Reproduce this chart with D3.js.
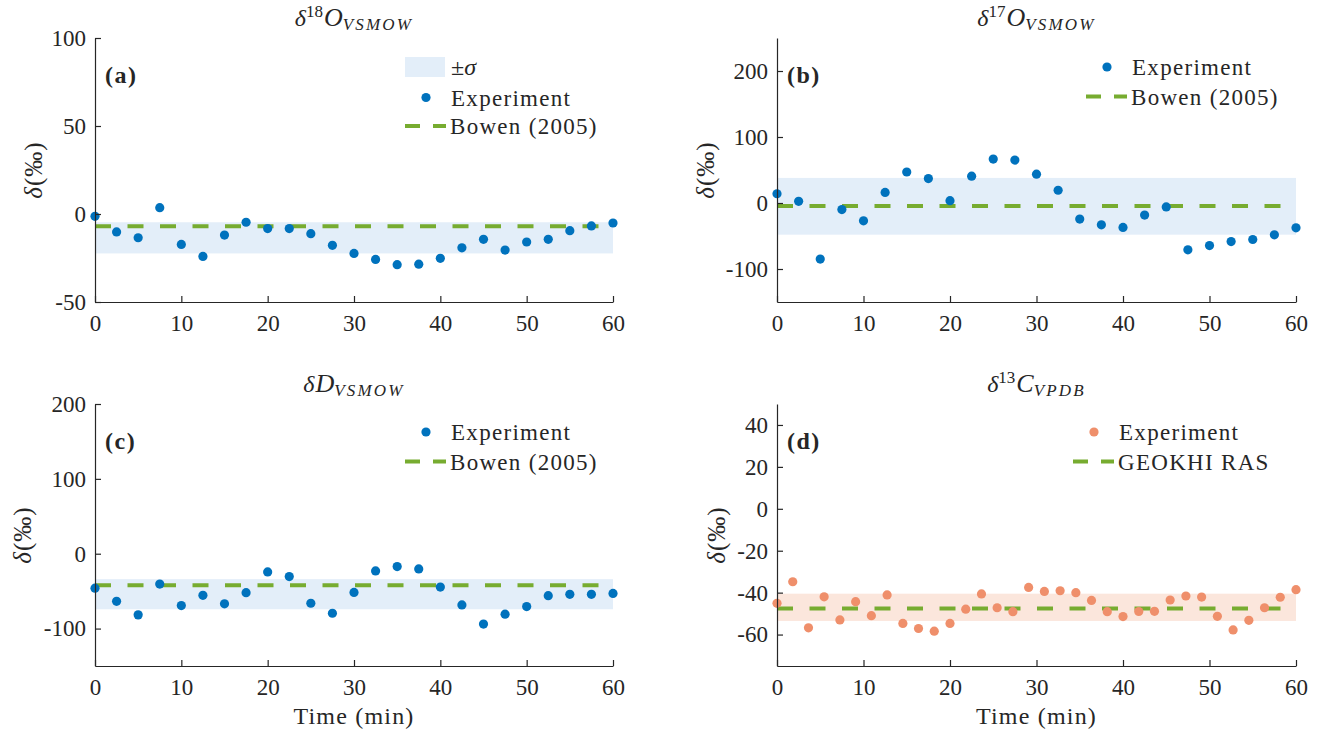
<!DOCTYPE html>
<html>
<head>
<meta charset="utf-8">
<script src="https://cdn.jsdelivr.net/npm/d3@7"></script>
<style>
  body { margin: 0; background: #fff; }
  svg { display: block; }
  text { font-family: "Liberation Serif", "Times New Roman", serif; fill: #262626; }
</style>
</head>
<body>
<svg id="chart" width="1323" height="735"></svg>
<script>
// ---------------- DATA ----------------
const time25 = [0, 2.5, 5, 7.5, 10, 12.5, 15, 17.5, 20, 22.5, 25, 27.5, 30, 32.5, 35, 37.5, 40, 42.5, 45, 47.5, 50, 52.5, 55, 57.5, 60];
const time34 = [0, 1.82, 3.64, 5.45, 7.27, 9.09, 10.91, 12.73, 14.55, 16.36, 18.18, 20, 21.82, 23.64, 25.45, 27.27, 29.09, 30.91, 32.73, 34.55, 36.36, 38.18, 40, 41.82, 43.64, 45.45, 47.27, 49.09, 50.91, 52.73, 54.55, 56.36, 58.18, 60];

const d18O = [-1.3, -10.2, -13.5, 3.6, -17.3, -24.1, -12, -4.7, -8.3, -8.3, -11.2, -17.8, -22.4, -25.8, -28.8, -28.5, -25.2, -19.2, -14.4, -20.5, -15.9, -14.4, -9.5, -6.8, -5.1];
const d17O = [14, 2.5, -85, -10, -27, 16, 47, 37, 3.5, 40.6, 66.5, 65, 43.6, 19.3, -24.4, -33, -37, -18.3, -6, -71, -64.5, -58.4, -55.3, -48.2, -37.6];
const dD = [-46, -63.6, -81.7, -40.6, -69.3, -55.6, -67, -52, -24.3, -30.5, -66.2, -79.5, -51.7, -23, -17.2, -20.3, -44.6, -68.4, -94, -80.8, -70.6, -56, -54.3, -54.3, -53];
const d13C = [-45.1, -34.8, -56.8, -42, -53, -44.3, -51, -41.1, -54.7, -57.1, -58.4, -54.7, -47.9, -40.6, -47.2, -49.1, -37.5, -39.4, -39.1, -40, -43.7, -49.1, -51.4, -49, -48.9, -43.5, -41.6, -42.1, -51.3, -57.8, -53.2, -47.2, -42.2, -38.6];

// sigma bands [low, high] and reference values
const band18O = [-22.4, -4.7];
const band17O = [-48, 38];
const bandD = [-74.2, -34];
const band13C = [-53.5, -40.5];
const ref18O = -7.0;
const ref17O = -4.6;
const refD = -42;
const ref13C = -47.6;

const yDomains = { a: [-50, 100], b: [-150, 250], c: [-150, 200], d: [-75, 50] };
const yTicks = { a: [-50, 0, 50, 100], b: [-100, 0, 100, 200], c: [-100, 0, 100, 200], d: [-60, -40, -20, 0, 20, 40] };
const xTicks = [0, 10, 20, 30, 40, 50, 60];

// ---------------- STYLE ----------------
const BLUE = "#0072BD", BLUE_BAND = "#e3eef9";
const ORANGE = "#ef8f6b", ORANGE_BAND = "#fbe6dc";
const GREEN = "#77AC30";
const AXIS = "#262626";

const panels = [
  { id: "a", title: ["δ", "18", "O", "VSMOW"], x: 95, y: 38, w: 518, h: 264,
    t: time25, v: d18O, band: band18O, ref: ref18O, dot: BLUE, bandCol: BLUE_BAND,
    refLabel: "Bowen (2005)", showSigma: true, ylabX: 34, xlabel: false,
    leg: { x: 405, y: 67 } },
  { id: "b", title: ["δ", "17", "O", "VSMOW"], x: 777, y: 38, w: 519, h: 264,
    t: time25, v: d17O, band: band17O, ref: ref17O, dot: BLUE, bandCol: BLUE_BAND,
    refLabel: "Bowen (2005)", showSigma: false, ylabX: 706, xlabel: false,
    leg: { x: 1086, y: 67 } },
  { id: "c", title: ["δ", "", "D", "VSMOW"], x: 95, y: 404, w: 518, h: 262,
    t: time25, v: dD, band: bandD, ref: refD, dot: BLUE, bandCol: BLUE_BAND,
    refLabel: "Bowen (2005)", showSigma: false, ylabX: 23, xlabel: true,
    leg: { x: 405, y: 432 } },
  { id: "d", title: ["δ", "13", "C", "VPDB"], x: 777, y: 404, w: 519, h: 262,
    t: time34, v: d13C, band: band13C, ref: ref13C, dot: ORANGE, bandCol: ORANGE_BAND,
    refLabel: "GEOKHI RAS", showSigma: false, ylabX: 717, xlabel: true,
    leg: { x: 1073, y: 432 } }
];

const svg = d3.select("#chart");

panels.forEach(p => {
  const g = svg.append("g").attr("transform", `translate(${p.x},${p.y})`);
  const x = d3.scaleLinear().domain([0, 60]).range([0, p.w]);
  const y = d3.scaleLinear().domain(yDomains[p.id]).range([p.h, 0]);

  // sigma band
  g.append("rect")
    .attr("x", x(0)).attr("width", x(60) - x(0))
    .attr("y", y(p.band[1])).attr("height", y(p.band[0]) - y(p.band[1]))
    .attr("fill", p.bandCol);

  // reference line
  g.append("line")
    .attr("x1", x(0)).attr("x2", x(60))
    .attr("y1", y(p.ref)).attr("y2", y(p.ref))
    .attr("stroke", GREEN).attr("stroke-width", 4)
    .attr("stroke-dasharray", "16,16.5");

  // points
  g.selectAll("circle.pt").data(p.t.map((t, i) => [t, p.v[i]])).join("circle")
    .attr("class", "pt")
    .attr("cx", d => x(d[0])).attr("cy", d => y(d[1]))
    .attr("r", 4.6).attr("fill", p.dot);

  // axes
  const ax = g.append("g").attr("transform", `translate(0,${p.h})`)
    .call(d3.axisBottom(x).tickValues(xTicks).tickSize(-6).tickSizeOuter(0).tickPadding(13).tickFormat(d => String(d)));
  const ay = g.append("g")
    .call(d3.axisLeft(y).tickValues(yTicks[p.id]).tickSize(-6).tickSizeOuter(0).tickPadding(9).tickFormat(d => String(d)));
  [ax, ay].forEach(a => {
    a.select(".domain").attr("stroke", AXIS).attr("stroke-width", 1.2);
    a.selectAll(".tick line").attr("stroke", AXIS).attr("stroke-width", 1.2);
    a.selectAll(".tick text").attr("font-size", 23).attr("fill", AXIS)
      .style("font-family", '"Liberation Serif", serif');
  });

  // title
  const tt = svg.append("text")
    .attr("x", p.x + p.w / 2).attr("y", p.y - 12)
    .attr("text-anchor", "middle").attr("font-size", 24);
  tt.append("tspan").attr("font-style", "italic").text(p.title[0]);
  if (p.title[1]) tt.append("tspan").attr("font-size", 17).attr("dy", -9).text(p.title[1]);
  tt.append("tspan").attr("font-style", "italic").attr("font-size", 26).attr("dy", p.title[1] ? 9 : 0).attr("dx", 1).text(p.title[2]);
  tt.append("tspan").attr("font-style", "italic").attr("font-size", 17).attr("dy", 4)
    .attr("letter-spacing", 2.2).text(p.title[3]);

  // panel label
  svg.append("text").attr("x", p.x + 10).attr("y", p.y + 45)
    .attr("font-size", 24).attr("font-weight", "bold").attr("letter-spacing", 1.5).text(`(${p.id})`);

  // y label
  svg.append("text")
    .attr("transform", `translate(${p.ylabX + 8},${p.y + p.h / 2}) rotate(-90)`)
    .attr("text-anchor", "middle").attr("font-size", 25).attr("letter-spacing", 1)
    .html('<tspan font-style="italic">δ</tspan>(‰)');

  // x label
  if (p.xlabel) {
    svg.append("text").attr("x", p.x + p.w / 2).attr("y", 724)
      .attr("text-anchor", "middle").attr("font-size", 24).attr("letter-spacing", 1.2).text("Time (min)");
  }

  // legend
  const lg = svg.append("g").attr("transform", `translate(${p.leg.x},${p.leg.y})`);
  let row = 0;
  if (p.showSigma) {
    lg.append("rect").attr("x", 0).attr("y", -10).attr("width", 40).attr("height", 20).attr("fill", p.bandCol);
    const st = lg.append("text").attr("x", 46).attr("y", 8).attr("font-size", 24);
    st.append("tspan").text("±");
    st.append("tspan").attr("font-style", "italic").text("σ");
    row = 1;
  }
  lg.append("circle").attr("cx", 21).attr("cy", row * 30.5).attr("r", 4.6).attr("fill", p.dot);
  lg.append("text").attr("x", 46).attr("y", row * 30.5 + 8).attr("font-size", 23).attr("letter-spacing", 1.3).text("Experiment");
  row += 1;
  lg.append("line").attr("x1", 0).attr("x2", 41).attr("y1", row * 29.5).attr("y2", row * 29.5)
    .attr("stroke", GREEN).attr("stroke-width", 4).attr("stroke-dasharray", "15,13");
  lg.append("text").attr("x", 45).attr("y", row * 29.5 + 8).attr("font-size", 23).attr("letter-spacing", 1.3).text(p.refLabel);
});
</script>
</body>
</html>
